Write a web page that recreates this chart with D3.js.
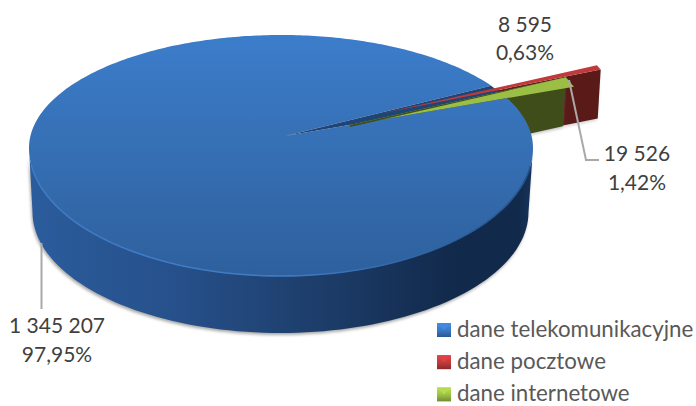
<!DOCTYPE html>
<html><head><meta charset="utf-8">
<script src="https://cdnjs.cloudflare.com/ajax/libs/d3/7.8.5/d3.min.js"></script>
<style>html,body{margin:0;padding:0;background:#fff}svg{display:block}text{font-family:Lato,"Open Sans",sans-serif}</style>
</head><body><svg id="c" width="696" height="406"></svg>
<script>
const categories = ["dane telekomunikacyjne", "dane pocztowe", "dane internetowe"];
const values = [1345207, 8595, 19526];
const valueLabels = ["1 345 207", "8 595", "19 526"];
const percentLabels = ["97,95%", "0,63%", "1,42%"];
const topColors = ["#3a78c2", "#c0393b", "#9bbf45"];
const wallColors = ["#1f4476", "#5a1a18", "#3f4d1a"];

const svg = d3.select("#c");
const defs = svg.append("defs");
const grad = (id, x2, y2, stops) => {
  const g = defs.append("linearGradient").attr("id", id).attr("x1", 0).attr("y1", 0).attr("x2", x2).attr("y2", y2);
  stops.forEach(s => g.append("stop").attr("offset", s[0]).attr("stop-color", s[1]));
};
grad("topG", 0, 1, [[0, "#3c7dcb"], [0.45, "#3670b5"], [1, "#2e609d"]]);
grad("wallG", 1, 0, [[0, "#2b5c9c"], [0.3, "#26508a"], [0.55, "#1e3f6d"], [0.85, "#11294a"], [0.97, "#11294a"], [1, "#16345a"]]);
grad("rimG", 1, 0, [[0, "#3e7ac4"], [0.5, "#3f7cc6"], [1, "#24528c"]]);
defs.append("filter").attr("id", "blur").attr("x", "-10%").attr("y", "-10%").attr("width", "120%").attr("height", "120%")
  .append("feGaussianBlur").attr("stdDeviation", 1.6);
categories.forEach((c, i) => {
  const base = d3.color(topColors[i]);
  grad("sw" + i, 0, 1, [[0, base.brighter(0.5)], [0.55, base], [1, base.darker(0.9)]]);
});

// pie geometry
const apex = [285, 136];           // visual vertex of the wedges
const ell = {cx: 281, cy: 148, rx: 252, ryTop: 113, ryBot: 128}; // perspective: front half is deeper
const ellB = {cx: 280.5, cy: 212, rx: 248, ryTop: 121, ryBot: 121};
const k = 0.476, R = 238;
const depth = [-3, 49];
const explode = [[0, 0], [96.5, -22.5], [65, -11]];
const tilt = [0, 2 * Math.PI / 180, 0];   // perspective of the far exploded slice

const pie = d3.pie().sort(null).value(d => d)
  .startAngle(70.2 * Math.PI / 180).endAngle((70.2 + 360) * Math.PI / 180);
const arcs = pie(values);

const dir = a => [Math.sin(a), -Math.cos(a) * k];
function hit(a, ry) {
  const [dx, dy] = dir(a);
  const ox = (apex[0] - ell.cx) / ell.rx, oy = (apex[1] - ell.cy) / ry;
  const ux = dx / ell.rx, uy = dy / ry;
  const A = ux * ux + uy * uy, B = 2 * (ox * ux + oy * uy), C = ox * ox + oy * oy - 1;
  const t = (-B + Math.sqrt(B * B - 4 * A * C)) / (2 * A);
  return [apex[0] + t * dx, apex[1] + t * dy];
}
function rim(a) {
  const p = hit(a, ell.ryTop);
  return p[1] <= ell.cy ? p : hit(a, ell.ryBot);
}
const line = d3.line();
const closed = pts => line(pts) + "Z";

// slice top outline for exploded wedges
function wedge(i) {
  const d = arcs[i];
  const o = [apex[0] + explode[i][0], apex[1] + explode[i][1]];
  const at = a => { const v = dir(a + tilt[i]); return [o[0] + R * v[0], o[1] + R * v[1]]; };
  return {o, a: at(d.startAngle), b: at(d.endAngle)};
}
const add = (p, v) => [p[0] + v[0], p[1] + v[1]];
const ellPt = (e, t) => [e.cx + e.rx * Math.cos(t), e.cy + (Math.sin(t) >= 0 ? e.ryBot : e.ryTop) * Math.sin(t)];

// soft shadow and side wall of the big slice
const wallPts = d3.range(0, 181, 2).map(t => ellPt(ellB, t * Math.PI / 180))
  .concat(d3.range(180, -1, -2).map(t => ellPt(ell, t * Math.PI / 180)));
svg.append("path").attr("d", closed(wallPts)).attr("fill", "#8c8c8c").attr("filter", "url(#blur)")
  .attr("transform", "translate(-1,2)").attr("opacity", 0.75);

// exploded slices: walls (back to front)
const red = wedge(1), green = wedge(2);
svg.append("path").attr("d", closed([red.o, red.b, add(red.b, depth), add(red.o, depth)]))
  .attr("fill", "#b8b8b8").attr("filter", "url(#blur)").attr("transform", "translate(-1,2)").attr("opacity", .6);
svg.append("path").attr("d", closed([red.o, red.b, add(red.b, depth), add(red.o, depth)])).attr("fill", wallColors[1]);
svg.append("path").attr("d", closed([green.o, green.a, add(green.a, depth), add(green.o, depth)]))
  .attr("fill", "#b8b8b8").attr("filter", "url(#blur)").attr("transform", "translate(-1,2)").attr("opacity", .6);
svg.append("path").attr("d", closed([green.o, green.a, add(green.a, depth), add(green.o, depth)])).attr("fill", wallColors[2]);

svg.append("path").attr("d", closed(wallPts)).attr("fill", "url(#wallG)");

// top of the big slice
const blue = arcs[0];
const bluePts = [apex].concat(d3.range(0, 361).map(i => rim(blue.startAngle + (blue.endAngle - blue.startAngle) * i / 360)));
svg.append("path").attr("d", closed(bluePts)).attr("fill", "url(#topG)");
// light rim on the front edge
svg.append("path").attr("d", line(d3.range(8, 173, 2).map(t => ellPt(ell, t * Math.PI / 180))))
  .attr("fill", "none").attr("stroke", "url(#rimG)").attr("stroke-width", 1.6);
// cut in the big slice
svg.append("path").attr("d", closed([apex, rim(blue.endAngle), rim(blue.startAngle)])).attr("fill", wallColors[0]);
// tops of exploded slices
svg.append("path").attr("d", closed([red.o, red.a, red.b])).attr("fill", topColors[1]);
svg.append("path").attr("d", closed([green.o, green.a, green.b])).attr("fill", topColors[2]);
svg.append("path").attr("d", closed([green.o, green.a, add(green.o, [0, 2])])).attr("fill", wallColors[2]);

// leader lines
const leaderPts = [[[41.5, 243], [41.5, 309]], [[569, 80], [586, 160], [599, 160]]];
leaderPts.forEach(p => svg.append("path").attr("d", line(p)).attr("fill", "none").attr("stroke", "#a9a9a9").attr("stroke-width", 2));

// data labels
const labelPos = [[57, 333, 362], [525, 32, 60], [637, 161, 190]];
labelPos.forEach((p, i) => {
  [valueLabels[i], percentLabels[i]].forEach((t, j) =>
    svg.append("text").attr("x", p[0]).attr("y", p[1 + j]).attr("text-anchor", "middle")
      .attr("font-size", 21).attr("fill", "#404040").text(t));
});

// legend
const ly = d3.scalePoint().domain(categories).range([337, 401.4]);
categories.forEach((c, i) => {
  const y = ly(c);
  svg.append("rect").attr("x", 437).attr("y", y - 14).attr("width", 14).attr("height", 14).attr("fill", `url(#sw${i})`);
  svg.append("path").attr("d", closed([[437, y - 14], [451, y - 14], [444, y - 7]])).attr("fill", d3.color(topColors[i]).brighter(0.4));
  svg.append("text").attr("x", 457).attr("y", y).attr("font-size", 22.3).attr("fill", "#595959").text(c);
});
</script></body></html>
